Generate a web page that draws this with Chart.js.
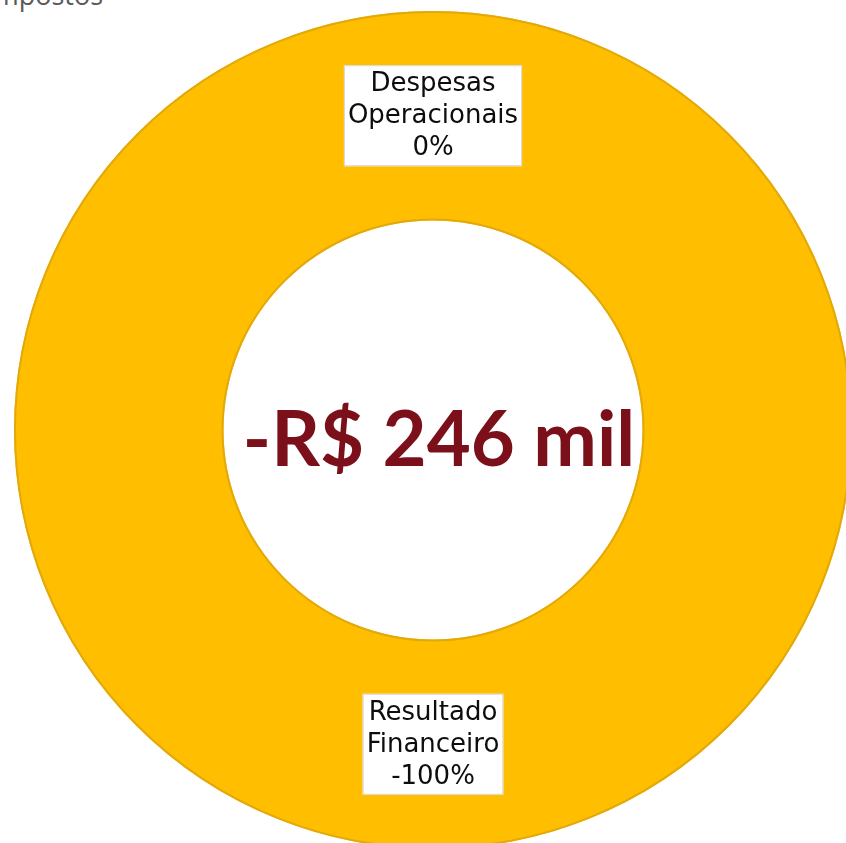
<!DOCTYPE html>
<html lang="pt-BR">
<head>
    <meta charset="UTF-8">
    <title>Resultado - composição</title>
    <script src="https://cdn.jsdelivr.net/npm/chart.js"></script>
    <style>
        html, body { margin: 0; padding: 0; background: #fff; overflow: hidden; width: 846px; height: 843px; }
        #wrap { position: absolute; left: 14px; top: 11px; width: 838px; height: 838px; }
        #topLabel { position: absolute; right: 743px; top: -24px; font: 27px "Open Sans", sans-serif; color: #595959; white-space: nowrap; }
    </style>
</head>
<body>
    <div id="topLabel">Impostos</div>
    <div id="wrap"><canvas id="resultChart"></canvas></div>

    <script>
        const categories = ['Despesas Operacionais', 'Resultado Financeiro'];
        const values = [0, -246];            // R$ mil
        const percents = ['0%', '-100%'];
        const totalLabel = '-R$ 246 mil';

        // contorno do anel (sem a emenda radial das fatias)
        const ringOutline = {
            id: 'ringOutline',
            afterDatasetsDraw(chart) {
                const arc = chart.getDatasetMeta(0).data[1];
                const ctx = chart.ctx;
                ctx.save();
                ctx.strokeStyle = '#e2a90c';
                ctx.lineWidth = 2;
                [arc.outerRadius - 1, arc.innerRadius + 1].forEach(r => {
                    ctx.beginPath();
                    ctx.arc(arc.x, arc.y, r, 0, Math.PI * 2);
                    ctx.stroke();
                });
                ctx.restore();
            }
        };

        // rótulos em caixa branca no meio do anel
        const sliceLabels = {
            id: 'sliceLabels',
            afterDatasetsDraw(chart) {
                const ctx = chart.ctx;
                const meta = chart.getDatasetMeta(0);
                ctx.save();
                ctx.font = '26px "DejaVu Sans", sans-serif';
                ctx.textAlign = 'center';
                ctx.textBaseline = 'middle';
                const lh = 32;
                meta.data.forEach((arc, i) => {
                    const p = arc.getCenterPoint();
                    const lines = categories[i].split(' ').concat(percents[i]);
                    const w = Math.max(...lines.map(l => ctx.measureText(l).width)) + 8;
                    const h = lines.length * lh + 5;
                    ctx.fillStyle = '#ffffff';
                    ctx.strokeStyle = '#d6d6d6';
                    ctx.lineWidth = 1;
                    ctx.fillRect(p.x - w / 2, p.y - h / 2, w, h);
                    ctx.strokeRect(p.x - w / 2 + 0.5, p.y - h / 2 + 0.5, w - 1, h - 1);
                    ctx.fillStyle = '#0d0d0d';
                    lines.forEach((l, j) => {
                        ctx.fillText(l, p.x, p.y - h / 2 + 3 + lh * (j + 0.5));
                    });
                });
                ctx.restore();
            }
        };

        // valor total no centro
        const centerText = {
            id: 'centerText',
            afterDraw(chart) {
                const ctx = chart.ctx;
                const arc = chart.getDatasetMeta(0).data[0];
                ctx.save();
                ctx.font = 'bold 76px Lato, sans-serif';
                ctx.fillStyle = '#7b0f1a';
                ctx.textAlign = 'center';
                ctx.textBaseline = 'middle';
                ctx.fillText(totalLabel, arc.x + 6, arc.y + 11);
                ctx.restore();
            }
        };

        new Chart(document.getElementById('resultChart'), {
            type: 'doughnut',
            data: {
                labels: categories,
                datasets: [{
                    data: values.map(v => Math.abs(v)),
                    backgroundColor: ['#ffbe00', '#ffbe00'],
                    borderWidth: 0,
                    hoverOffset: 0
                }]
            },
            options: {
                responsive: true,
                maintainAspectRatio: false,
                animation: false,
                cutout: '50%',
                layout: { padding: 0 },
                plugins: {
                    legend: { display: false },
                    tooltip: { enabled: false }
                }
            },
            plugins: [ringOutline, sliceLabels, centerText]
        });
    </script>
</body>
</html>
